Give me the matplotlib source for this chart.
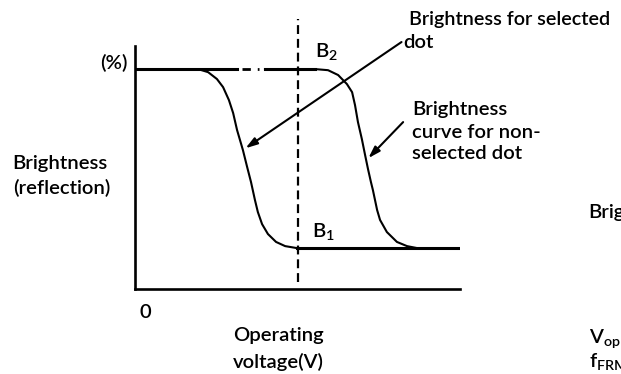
import matplotlib
matplotlib.use("Agg")
import matplotlib.pyplot as plt

plt.rcParams['font.family'] = ['Lato', 'DejaVu Sans']
plt.rcParams['mathtext.fontset'] = 'custom'
plt.rcParams['mathtext.rm'] = 'Lato:semibold'
plt.rcParams['mathtext.it'] = 'Lato:semibold'

# brightness (%) vs operating voltage (arbitrary units 0..10)
sel_v = [0.0, 1.94, 2.25, 2.52, 2.71, 2.89, 3.02, 3.14, 3.32, 3.45, 3.57, 3.69,
         3.78, 3.91, 4.09, 4.34, 4.62, 4.98]
sel_b = [100, 100, 98.6, 95.5, 91.8, 85.9, 80.0, 72.3, 63.2, 55.5, 48.6, 40.5,
         35.0, 29.5, 25.0, 21.4, 19.5, 18.6]

non_v = [4.0, 5.54, 5.94, 6.25, 6.52, 6.68, 6.77, 6.86, 6.98, 7.08, 7.17, 7.26,
         7.32, 7.45, 7.54, 7.75, 8.06, 8.37, 8.68, 10.0]
non_b = [100, 100, 99.5, 97.3, 93.2, 89.5, 83.6, 75.9, 68.2, 60.9, 54.5, 48.6,
         45.0, 35.9, 31.4, 25.9, 21.4, 19.5, 18.6, 18.6]

b_top = 100
b_low = 18.6
v_sel = 5.0          # operating voltage (dashed line)
v_gap = [3.14, 4.0]  # dash-dot part of the top level

# arrow (tail, head) in data units
arrow_sel = [(8.2, 112.3), (3.40, 64.0)]
arrow_non = [(8.25, 75.9), (7.18, 59.5)]

fs = 14.6
fw = 'semibold'

fig = plt.figure(figsize=(6.21, 3.74), dpi=100)
ax = fig.add_axes([135/621, 1-289/374, 325/621, 243/374])
ax.set_xlim(0, 10)
ax.set_ylim(0, 110.5)
for s in ['top', 'right']:
    ax.spines[s].set_visible(False)
for s in ['left', 'bottom']:
    ax.spines[s].set_linewidth(1.9)
ax.set_xticks([])
ax.set_yticks([])

ax.plot(sel_v, sel_b, color='black', lw=1.5)
ax.plot([sel_v[0], v_gap[0]], [b_top, b_top], color='black', lw=2.2)
ax.plot([v_gap[0] + 0.15, v_gap[1] - 0.2], [b_top, b_top], color='black', lw=2.0,
        linestyle=(0, (3, 2.5, 1, 2.5)))
ax.plot(non_v, non_b, color='black', lw=1.5)
ax.plot([non_v[0], non_v[1]], [b_top, b_top], color='black', lw=2.2)
ax.plot([sel_v[-1], 10], [b_low, b_low], color='black', lw=2.2)
ax.plot([v_sel, v_sel], [3.2, 123], color='black', lw=1.6,
        linestyle=(0, (4, 2.2)), clip_on=False)

for tail, head in [arrow_sel, arrow_non]:
    ax.annotate('', xy=head, xytext=tail,
                arrowprops=dict(arrowstyle='-|>,head_length=0.7,head_width=0.22',
                                color='black', lw=1.5, shrinkA=0, shrinkB=0),
                annotation_clip=False)

def label(x, y, s, ha='left', size=fs):
    fig.text(x/621, 1-y/374, s, ha=ha, va='center', fontsize=size, fontweight=fw)

label(128, 63, '(%)', ha='right')
label(12, 163, 'Brightness')
label(13, 188, '(reflection)')
label(145, 312, '0', ha='center')
label(278, 335, 'Operating', ha='center')
label(278, 362, 'voltage(V)', ha='center')
label(312, 232, 'B$_1$')
label(315, 52, 'B$_2$')
label(409, 20, 'Brightness for selected', size=14.2)
label(403, 42, 'dot')
label(412, 110, 'Brightness')
label(412, 132, 'curve for non-')
label(412, 153, 'selected dot')
label(588, 213, 'Brightness')
label(589, 339, 'V$_{op}$')
label(589, 362, 'f$_{FRM}$')

fig.savefig('out.png', dpi=100)
